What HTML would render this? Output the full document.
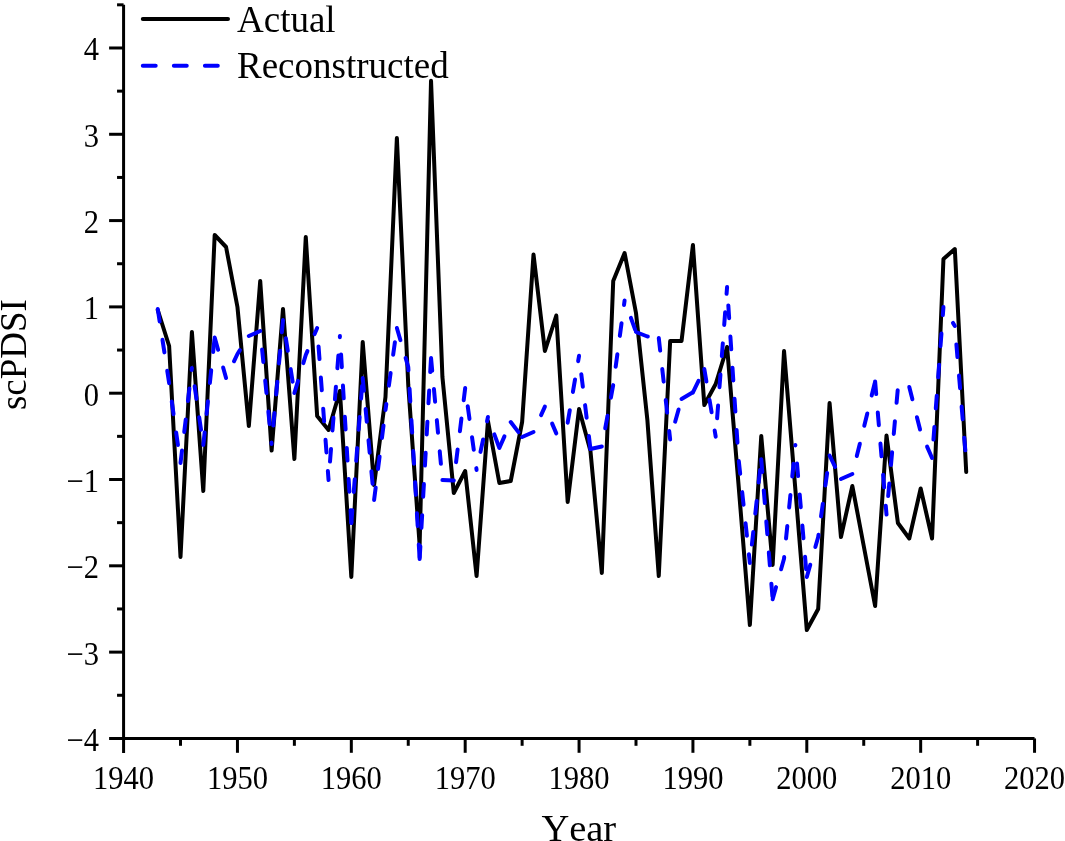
<!DOCTYPE html>
<html><head><meta charset="utf-8"><style>
html,body{margin:0;padding:0;background:#fff;}
body{width:1065px;height:841px;overflow:hidden;}
svg{display:block;will-change:transform;}
text{font-family:"Liberation Serif",serif;fill:#000;font-kerning:none;}
</style></head><body>
<svg width="1065" height="841" viewBox="0 0 1065 841">
<rect width="1065" height="841" fill="#fff"/>
<g stroke="#000" stroke-width="3" fill="none" stroke-linecap="butt">
<line x1="123.58" y1="4.82" x2="123.58" y2="752.9" />
<line x1="109.1" y1="738.42" x2="1034.54" y2="738.42" />
<line x1="117.05" y1="695.27" x2="123.58" y2="695.27" />
<line x1="109.1" y1="652.12" x2="123.58" y2="652.12" />
<line x1="117.05" y1="608.96" x2="123.58" y2="608.96" />
<line x1="109.1" y1="565.81" x2="123.58" y2="565.81" />
<line x1="117.05" y1="522.66" x2="123.58" y2="522.66" />
<line x1="109.1" y1="479.51" x2="123.58" y2="479.51" />
<line x1="117.05" y1="436.35" x2="123.58" y2="436.35" />
<line x1="109.1" y1="393.20" x2="123.58" y2="393.20" />
<line x1="117.05" y1="350.05" x2="123.58" y2="350.05" />
<line x1="109.1" y1="306.89" x2="123.58" y2="306.89" />
<line x1="117.05" y1="263.74" x2="123.58" y2="263.74" />
<line x1="109.1" y1="220.59" x2="123.58" y2="220.59" />
<line x1="117.05" y1="177.44" x2="123.58" y2="177.44" />
<line x1="109.1" y1="134.28" x2="123.58" y2="134.28" />
<line x1="117.05" y1="91.13" x2="123.58" y2="91.13" />
<line x1="109.1" y1="47.98" x2="123.58" y2="47.98" />
<line x1="117.05" y1="4.82" x2="123.58" y2="4.82" />
<line x1="180.51" y1="738.42" x2="180.51" y2="745.8" />
<line x1="237.45" y1="738.42" x2="237.45" y2="752.8" />
<line x1="294.38" y1="738.42" x2="294.38" y2="745.8" />
<line x1="351.32" y1="738.42" x2="351.32" y2="752.8" />
<line x1="408.25" y1="738.42" x2="408.25" y2="745.8" />
<line x1="465.19" y1="738.42" x2="465.19" y2="752.8" />
<line x1="522.12" y1="738.42" x2="522.12" y2="745.8" />
<line x1="579.06" y1="738.42" x2="579.06" y2="752.8" />
<line x1="636.00" y1="738.42" x2="636.00" y2="745.8" />
<line x1="692.93" y1="738.42" x2="692.93" y2="752.8" />
<line x1="749.87" y1="738.42" x2="749.87" y2="745.8" />
<line x1="806.80" y1="738.42" x2="806.80" y2="752.8" />
<line x1="863.74" y1="738.42" x2="863.74" y2="745.8" />
<line x1="920.67" y1="738.42" x2="920.67" y2="752.8" />
<line x1="977.61" y1="738.42" x2="977.61" y2="745.8" />
<line x1="1034.54" y1="738.42" x2="1034.54" y2="752.8" />
</g>
<polyline points="157.74,310.00 169.13,346.00 180.51,557.00 191.90,332.00 203.29,491.00 214.68,235.00 226.06,247.00 237.45,307.00 248.84,426.00 260.22,281.00 271.61,450.50 283.00,309.00 294.38,459.00 305.77,237.00 317.16,416.00 328.55,430.00 339.93,391.00 351.32,577.00 362.71,342.00 374.09,485.00 385.48,397.00 396.87,138.00 408.25,385.00 419.64,545.00 431.03,80.80 442.42,377.00 453.80,493.00 465.19,471.00 476.58,576.00 487.96,421.00 499.35,483.00 510.74,481.00 522.12,422.00 533.51,254.50 544.90,351.00 556.29,315.50 567.67,502.00 579.06,409.00 590.45,451.00 601.83,573.00 613.22,281.00 624.61,253.00 636.00,313.00 647.38,420.00 658.77,576.00 670.16,341.00 681.54,341.00 692.93,245.00 704.32,405.00 715.70,384.00 727.09,347.00 738.48,484.00 749.87,625.00 761.25,436.00 772.64,565.00 784.03,351.00 795.41,490.00 806.80,630.00 818.19,609.00 829.57,403.00 840.96,537.00 852.35,486.00 863.74,546.00 875.12,606.00 886.51,435.50 897.90,523.00 909.28,538.50 920.67,488.50 932.06,538.50 943.44,259.00 954.83,249.00 966.22,472.00" fill="none" stroke="#000" stroke-width="4.0" stroke-linejoin="round" stroke-linecap="round"/>
<g fill="none" stroke="#0000ff" stroke-width="4.0" stroke-linecap="round" stroke-linejoin="round">
<line x1="157.74" y1="309.00" x2="159.67" y2="321.55"/>
<line x1="162.49" y1="339.84" x2="164.42" y2="352.39"/>
<polyline points="167.23,370.67 169.13,383.00 169.16,383.23"/>
<line x1="171.77" y1="401.54" x2="173.56" y2="414.12"/>
<line x1="176.16" y1="432.43" x2="177.95" y2="445.00"/>
<line x1="180.51" y1="463.00" x2="182.03" y2="450.39"/>
<line x1="184.23" y1="432.02" x2="185.74" y2="419.41"/>
<line x1="187.94" y1="401.04" x2="189.45" y2="388.43"/>
<line x1="191.65" y1="370.07" x2="191.90" y2="368.00"/>
<line x1="194.61" y1="386.30" x2="196.47" y2="398.86"/>
<line x1="199.17" y1="417.17" x2="201.03" y2="429.73"/>
<line x1="203.29" y1="445.00" x2="204.63" y2="432.37"/>
<line x1="206.58" y1="413.97" x2="207.91" y2="401.34"/>
<line x1="209.86" y1="382.95" x2="211.20" y2="370.32"/>
<line x1="213.15" y1="351.92" x2="214.49" y2="339.29"/>
<line x1="214.68" y1="337.50" x2="218.11" y2="349.73"/>
<line x1="223.12" y1="367.54" x2="226.06" y2="378.00"/>
<polyline points="233.99,361.29 237.45,354.00 239.93,350.08"/>
<line x1="248.84" y1="336.00" x2="260.22" y2="331.00"/>
<line x1="262.08" y1="349.41" x2="263.35" y2="362.04"/>
<line x1="265.21" y1="380.45" x2="266.48" y2="393.09"/>
<line x1="268.34" y1="411.49" x2="269.61" y2="424.13"/>
<line x1="271.46" y1="442.54" x2="271.61" y2="444.00"/>
<line x1="273.30" y1="425.58" x2="274.46" y2="412.93"/>
<line x1="276.16" y1="394.51" x2="277.32" y2="381.86"/>
<line x1="279.01" y1="363.44" x2="280.17" y2="350.79"/>
<line x1="281.86" y1="332.37" x2="283.00" y2="320.00"/>
<line x1="285.85" y1="338.28" x2="287.81" y2="350.83"/>
<line x1="290.66" y1="369.11" x2="292.62" y2="381.65"/>
<line x1="294.38" y1="393.00" x2="298.03" y2="380.83"/>
<polyline points="303.34,363.11 305.77,355.00 307.42,351.10"/>
<line x1="314.60" y1="334.06" x2="317.16" y2="328.00"/>
<line x1="318.54" y1="346.45" x2="319.49" y2="359.11"/>
<line x1="320.87" y1="377.56" x2="321.82" y2="390.23"/>
<line x1="323.20" y1="408.67" x2="324.15" y2="421.34"/>
<line x1="325.53" y1="439.79" x2="326.48" y2="452.45"/>
<line x1="327.86" y1="470.90" x2="328.55" y2="480.00"/>
<line x1="330.00" y1="461.56" x2="331.01" y2="448.90"/>
<line x1="332.46" y1="430.45" x2="333.47" y2="417.79"/>
<line x1="334.92" y1="399.35" x2="335.92" y2="386.69"/>
<line x1="337.38" y1="368.25" x2="338.38" y2="355.59"/>
<line x1="339.84" y1="337.15" x2="339.93" y2="336.00"/>
<line x1="341.06" y1="354.47" x2="341.83" y2="367.14"/>
<line x1="342.95" y1="385.61" x2="343.73" y2="398.28"/>
<line x1="344.85" y1="416.75" x2="345.62" y2="429.43"/>
<line x1="346.75" y1="447.89" x2="347.52" y2="460.57"/>
<line x1="348.64" y1="479.04" x2="349.41" y2="491.71"/>
<line x1="350.54" y1="510.18" x2="351.31" y2="522.85"/>
<line x1="351.32" y1="523.00" x2="352.31" y2="510.34"/>
<line x1="353.76" y1="491.90" x2="354.76" y2="479.23"/>
<line x1="356.21" y1="460.79" x2="357.20" y2="448.13"/>
<line x1="358.65" y1="429.69" x2="359.64" y2="417.03"/>
<line x1="361.09" y1="398.58" x2="362.08" y2="385.92"/>
<line x1="362.71" y1="378.00" x2="363.89" y2="390.65"/>
<line x1="365.61" y1="409.06" x2="366.79" y2="421.71"/>
<line x1="368.51" y1="440.13" x2="369.69" y2="452.78"/>
<line x1="371.41" y1="471.19" x2="372.59" y2="483.84"/>
<line x1="374.09" y1="500.00" x2="375.69" y2="487.40"/>
<line x1="378.01" y1="469.05" x2="379.60" y2="456.45"/>
<line x1="381.93" y1="438.09" x2="383.52" y2="425.49"/>
<line x1="385.48" y1="410.00" x2="386.32" y2="403.96"/>
<line x1="388.86" y1="385.63" x2="390.61" y2="373.05"/>
<line x1="393.16" y1="354.73" x2="394.90" y2="342.15"/>
<line x1="396.87" y1="328.00" x2="400.43" y2="340.19"/>
<polyline points="405.61,357.95 408.25,367.00 408.45,370.27"/>
<line x1="409.54" y1="388.73" x2="410.30" y2="401.41"/>
<line x1="411.39" y1="419.88" x2="412.14" y2="432.56"/>
<line x1="413.24" y1="451.02" x2="413.99" y2="463.70"/>
<line x1="415.09" y1="482.17" x2="415.84" y2="494.85"/>
<line x1="416.93" y1="513.31" x2="417.68" y2="525.99"/>
<line x1="418.78" y1="544.46" x2="419.53" y2="557.14"/>
<line x1="419.64" y1="559.00" x2="420.36" y2="546.32"/>
<line x1="421.41" y1="527.85" x2="422.13" y2="515.17"/>
<line x1="423.17" y1="496.70" x2="423.89" y2="484.02"/>
<line x1="424.94" y1="465.55" x2="425.65" y2="452.87"/>
<line x1="426.70" y1="434.40" x2="427.42" y2="421.72"/>
<line x1="428.47" y1="403.25" x2="429.18" y2="390.57"/>
<line x1="430.23" y1="372.10" x2="430.95" y2="359.42"/>
<line x1="431.03" y1="358.00" x2="432.21" y2="370.65"/>
<line x1="433.93" y1="389.06" x2="435.11" y2="401.71"/>
<line x1="436.83" y1="420.13" x2="438.01" y2="432.78"/>
<line x1="439.73" y1="451.19" x2="440.91" y2="463.84"/>
<line x1="442.42" y1="480.00" x2="453.80" y2="480.50"/>
<line x1="456.06" y1="462.14" x2="457.62" y2="449.53"/>
<line x1="459.88" y1="431.17" x2="461.43" y2="418.57"/>
<line x1="463.69" y1="400.21" x2="465.19" y2="388.00"/>
<line x1="467.73" y1="406.32" x2="469.48" y2="418.90"/>
<line x1="472.03" y1="437.23" x2="473.77" y2="449.81"/>
<line x1="476.32" y1="468.13" x2="476.58" y2="470.00"/>
<line x1="480.46" y1="451.91" x2="483.13" y2="439.50"/>
<line x1="487.02" y1="421.41" x2="487.96" y2="417.00"/>
<line x1="494.34" y1="434.37" x2="498.72" y2="446.29"/>
<line x1="499.35" y1="448.00" x2="504.45" y2="436.37"/>
<line x1="510.74" y1="422.00" x2="518.42" y2="432.12"/>
<line x1="522.12" y1="437.00" x2="533.51" y2="432.00"/>
<line x1="541.08" y1="415.12" x2="544.90" y2="406.60"/>
<line x1="552.13" y1="423.63" x2="556.29" y2="433.40"/>
<line x1="567.67" y1="422.70" x2="569.80" y2="410.18"/>
<line x1="572.91" y1="391.94" x2="575.04" y2="379.42"/>
<line x1="578.14" y1="361.18" x2="579.06" y2="355.80"/>
<line x1="581.30" y1="374.16" x2="582.84" y2="386.77"/>
<line x1="585.09" y1="405.13" x2="586.63" y2="417.74"/>
<line x1="588.87" y1="436.10" x2="590.41" y2="448.71"/>
<line x1="590.45" y1="449.00" x2="601.83" y2="446.50"/>
<line x1="605.20" y1="428.31" x2="607.51" y2="415.82"/>
<line x1="610.88" y1="397.63" x2="613.19" y2="385.14"/>
<line x1="615.67" y1="366.81" x2="617.37" y2="354.22"/>
<line x1="619.84" y1="335.89" x2="621.54" y2="323.30"/>
<line x1="624.01" y1="304.97" x2="624.61" y2="300.50"/>
<line x1="630.90" y1="317.90" x2="635.21" y2="329.84"/>
<polyline points="636.00,332.00 647.38,336.50 647.83,336.56"/>
<line x1="658.77" y1="338.00" x2="660.18" y2="350.62"/>
<line x1="662.25" y1="369.01" x2="663.66" y2="381.63"/>
<line x1="665.73" y1="400.01" x2="667.14" y2="412.63"/>
<line x1="669.20" y1="431.02" x2="670.16" y2="439.50"/>
<line x1="675.16" y1="421.69" x2="678.60" y2="409.46"/>
<line x1="681.54" y1="399.00" x2="692.49" y2="392.56"/>
<line x1="692.93" y1="392.30" x2="698.51" y2="380.89"/>
<line x1="704.32" y1="369.00" x2="706.42" y2="381.52"/>
<line x1="709.49" y1="399.77" x2="711.60" y2="412.29"/>
<line x1="714.67" y1="430.54" x2="715.70" y2="436.70"/>
<line x1="717.11" y1="418.25" x2="718.07" y2="405.59"/>
<line x1="719.47" y1="387.14" x2="720.44" y2="374.48"/>
<line x1="721.84" y1="356.03" x2="722.80" y2="343.37"/>
<line x1="724.21" y1="324.92" x2="725.17" y2="312.26"/>
<line x1="726.57" y1="293.81" x2="727.09" y2="287.00"/>
<line x1="728.32" y1="305.46" x2="729.16" y2="318.13"/>
<line x1="730.39" y1="336.59" x2="731.24" y2="349.26"/>
<line x1="732.47" y1="367.72" x2="733.31" y2="380.39"/>
<line x1="734.54" y1="398.85" x2="735.38" y2="411.52"/>
<line x1="736.61" y1="429.98" x2="737.46" y2="442.66"/>
<line x1="738.81" y1="461.10" x2="740.18" y2="473.73"/>
<line x1="742.18" y1="492.12" x2="743.55" y2="504.75"/>
<line x1="745.54" y1="523.14" x2="746.91" y2="535.77"/>
<line x1="748.91" y1="554.16" x2="749.87" y2="563.00"/>
<line x1="751.88" y1="544.61" x2="753.27" y2="531.99"/>
<line x1="755.29" y1="513.60" x2="756.68" y2="500.97"/>
<line x1="758.70" y1="482.58" x2="760.08" y2="469.96"/>
<line x1="761.25" y1="459.30" x2="762.28" y2="471.96"/>
<line x1="763.78" y1="490.40" x2="764.81" y2="503.06"/>
<line x1="766.31" y1="521.49" x2="767.34" y2="534.15"/>
<line x1="768.84" y1="552.59" x2="769.87" y2="565.25"/>
<line x1="771.37" y1="583.69" x2="772.40" y2="596.35"/>
<line x1="772.64" y1="599.30" x2="776.07" y2="587.07"/>
<polyline points="781.06,569.26 784.03,558.70 784.20,556.98"/>
<line x1="786.04" y1="538.57" x2="787.31" y2="525.93"/>
<line x1="789.15" y1="507.52" x2="790.42" y2="494.89"/>
<line x1="792.26" y1="476.48" x2="793.53" y2="463.84"/>
<line x1="795.37" y1="445.43" x2="795.41" y2="445.00"/>
<line x1="797.00" y1="463.43" x2="798.09" y2="476.08"/>
<line x1="799.68" y1="494.52" x2="800.78" y2="507.17"/>
<line x1="802.37" y1="525.60" x2="803.46" y2="538.25"/>
<line x1="805.05" y1="556.69" x2="806.14" y2="569.34"/>
<line x1="806.80" y1="577.00" x2="810.28" y2="564.79"/>
<polyline points="815.34,546.99 818.19,537.00 818.51,534.71"/>
<line x1="821.07" y1="516.39" x2="822.82" y2="503.81"/>
<line x1="825.38" y1="485.49" x2="827.14" y2="472.91"/>
<line x1="829.57" y1="455.50" x2="835.11" y2="466.93"/>
<line x1="840.96" y1="479.00" x2="852.35" y2="474.00"/>
<line x1="856.79" y1="456.04" x2="859.85" y2="443.71"/>
<line x1="864.28" y1="425.75" x2="867.30" y2="413.42"/>
<line x1="871.69" y1="395.45" x2="874.70" y2="383.11"/>
<line x1="875.12" y1="381.40" x2="876.20" y2="394.05"/>
<line x1="877.78" y1="412.49" x2="878.86" y2="425.14"/>
<line x1="880.44" y1="443.57" x2="881.52" y2="456.23"/>
<line x1="883.10" y1="474.66" x2="884.18" y2="487.31"/>
<line x1="885.76" y1="505.75" x2="886.51" y2="514.50"/>
<line x1="888.17" y1="496.07" x2="889.31" y2="483.43"/>
<line x1="890.96" y1="465.00" x2="892.10" y2="452.35"/>
<line x1="893.76" y1="433.93" x2="894.90" y2="421.28"/>
<line x1="896.56" y1="402.85" x2="897.70" y2="390.20"/>
<line x1="909.28" y1="387.00" x2="912.40" y2="399.31"/>
<line x1="916.94" y1="417.25" x2="920.05" y2="429.56"/>
<line x1="927.08" y1="446.64" x2="932.06" y2="458.00"/>
<line x1="933.45" y1="439.55" x2="934.40" y2="426.89"/>
<line x1="935.79" y1="408.44" x2="936.75" y2="395.78"/>
<line x1="938.14" y1="377.33" x2="939.10" y2="364.67"/>
<line x1="940.49" y1="346.22" x2="941.44" y2="333.55"/>
<line x1="942.83" y1="315.11" x2="943.44" y2="307.00"/>
<line x1="952.95" y1="322.87" x2="954.83" y2="326.00"/>
<line x1="956.39" y1="344.43" x2="957.45" y2="357.09"/>
<line x1="959.01" y1="375.52" x2="960.08" y2="388.18"/>
<line x1="961.63" y1="406.61" x2="962.70" y2="419.27"/>
<line x1="964.25" y1="437.70" x2="965.32" y2="450.36"/>
</g>
<line x1="142.8" y1="19" x2="228" y2="19" stroke="#000" stroke-width="4" stroke-linecap="round"/>
<line x1="142.8" y1="65.7" x2="218" y2="65.7" stroke="#0000ff" stroke-width="4" stroke-linecap="round" stroke-dasharray="12.9 18.15"/>
<g font-size="31">
<text transform="translate(99,750.92) scale(0.985,1.07)" text-anchor="end">−4</text>
<text transform="translate(99,664.62) scale(0.985,1.07)" text-anchor="end">−3</text>
<text transform="translate(99,578.31) scale(0.985,1.07)" text-anchor="end">−2</text>
<text transform="translate(99,492.01) scale(0.985,1.07)" text-anchor="end">−1</text>
<text transform="translate(99,405.70) scale(0.985,1.07)" text-anchor="end">0</text>
<text transform="translate(99,319.39) scale(0.985,1.07)" text-anchor="end">1</text>
<text transform="translate(99,233.09) scale(0.985,1.07)" text-anchor="end">2</text>
<text transform="translate(99,146.78) scale(0.985,1.07)" text-anchor="end">3</text>
<text transform="translate(99,60.48) scale(0.985,1.07)" text-anchor="end">4</text>
<text transform="translate(123.58,789) scale(0.985,1.07)" text-anchor="middle">1940</text>
<text transform="translate(237.45,789) scale(0.985,1.07)" text-anchor="middle">1950</text>
<text transform="translate(351.32,789) scale(0.985,1.07)" text-anchor="middle">1960</text>
<text transform="translate(465.19,789) scale(0.985,1.07)" text-anchor="middle">1970</text>
<text transform="translate(579.06,789) scale(0.985,1.07)" text-anchor="middle">1980</text>
<text transform="translate(692.93,789) scale(0.985,1.07)" text-anchor="middle">1990</text>
<text transform="translate(806.80,789) scale(0.985,1.07)" text-anchor="middle">2000</text>
<text transform="translate(920.67,789) scale(0.985,1.07)" text-anchor="middle">2010</text>
<text transform="translate(1034.54,789) scale(0.985,1.07)" text-anchor="middle">2020</text>
</g>
<g font-size="37">
<text x="237" y="31.7">Actual</text>
<text x="237" y="78.2">Reconstructed</text>
<text x="578.8" y="841" text-anchor="middle" font-size="38.5">Year</text>
<text transform="translate(25.5,354.6) rotate(-90)" text-anchor="middle">scPDSI</text>
</g>
</svg>
</body></html>
